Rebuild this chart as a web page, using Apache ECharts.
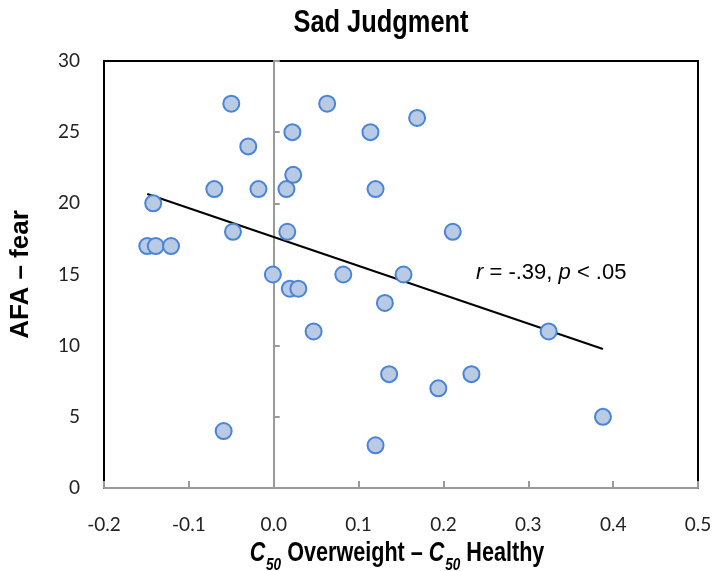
<!DOCTYPE html>
<html>
<head>
<meta charset="utf-8">
<script src="https://cdn.jsdelivr.net/npm/echarts@6/dist/echarts.min.js"></script>
<style>
  html, body { margin: 0; padding: 0; background: #fff; }
  #sadJudgment { width: 715px; height: 571px; }
</style>
</head>
<body>
<div id="sadJudgment"></div>
<script>
// C50 difference (x) and AFA fear score (y)
const diffC50 = [
  -0.149, -0.139, -0.121, -0.142, -0.070, -0.050, -0.048, -0.030, -0.018, -0.059,
  -0.001, 0.015, 0.022, 0.023, 0.016, 0.019, 0.029, 0.047, 0.063, 0.082,
  0.114, 0.120, 0.120, 0.131, 0.136, 0.153, 0.169, 0.194, 0.211, 0.233,
  0.324, 0.388
];
const afaFear = [
  17, 17, 17, 20, 21, 27, 18, 24, 21, 4,
  15, 21, 25, 22, 18, 14, 14, 11, 27, 15,
  25, 21, 3, 13, 8, 15, 26, 7, 18, 8,
  11, 5
];
// end points of the fitted line
const fitX = [-0.149, 0.388];
const fitY = [20.66, 9.77];
const xTicks = [-0.2, 0.5, 0.1];   // min, max, step
const yTicks = [0, 30, 5];

const arial = '"Liberation Sans", Arial, sans-serif';

let chart = echarts.init(document.getElementById('sadJudgment'));

let points = [];
for (let i = 0; i < diffC50.length; i++) {
    points.push([diffC50[i], afaFear[i]]);
}
let fitLine = [];
for (let i = 0; i < fitX.length; i++) {
    fitLine.push([fitX[i], fitY[i]]);
}

// the title and x-axis name are set in a narrow bold face; squeeze Arial-like text to get it
const option = {
    animation: false,
    grid: {
        left: 102,
        top: 61,
        right: 17,
        bottom: 83,
        show: true,
        borderColor: '#000',
        borderWidth: 2
    },
    xAxis: {
        type: 'value',
        min: xTicks[0],
        max: xTicks[1],
        interval: xTicks[2],
        axisLine: { onZero: false, lineStyle: { color: '#9a9a9a', width: 2 } },
        axisTick: { inside: true, length: 7, lineStyle: { color: '#9a9a9a', width: 2 } },
        splitLine: { show: false },
        axisLabel: {
            margin: 27,
            fontFamily: 'Lato, sans-serif',
            fontSize: 19,
            color: '#222',
            formatter: v => v.toFixed(1)
        }
    },
    yAxis: [
        {
            type: 'value',
            min: yTicks[0],
            max: yTicks[1],
            interval: yTicks[2],
            position: 'left',
            axisLine: { show: false, onZero: false },
            axisTick: { show: false },
            splitLine: { show: false },
            axisLabel: {
                margin: 24,
                fontFamily: 'Lato, sans-serif',
                fontSize: 19,
                color: '#222'
            },
            name: 'AFA – fear',
            nameLocation: 'middle',
            nameRotate: 90,
            nameGap: 70,
            nameTextStyle: { fontFamily: arial, fontWeight: 'bold', fontSize: 26, color: '#000' }
        },
        {
            // the vertical line through x = 0, ticks to its right
            type: 'value',
            min: yTicks[0],
            max: yTicks[1],
            interval: yTicks[2],
            position: 'right',
            axisLine: { show: true, onZero: true, lineStyle: { color: '#9a9a9a', width: 2 } },
            axisTick: { show: true, length: 6, lineStyle: { color: '#9a9a9a', width: 2 } },
            axisLabel: { show: false },
            splitLine: { show: false }
        }
    ],
    graphic: [
        {
            type: 'text',
            x: 381,
            y: 23,
            scaleX: 0.82,
            style: {
                text: 'Sad Judgment',
                align: 'center',
                verticalAlign: 'middle',
                fontFamily: arial,
                fontWeight: 'bold',
                fontSize: 31,
                fill: '#000'
            }
        },
        {
            type: 'text',
            x: 397,
            y: 555,
            scaleX: 0.8,
            style: {
                text: '{c|C}{s|50}{t| Overweight – }{c|C}{s|50}{t| Healthy}',
                align: 'center',
                verticalAlign: 'middle',
                rich: {
                    t: { fontFamily: arial, fontWeight: 'bold', fontSize: 27, lineHeight: 30, verticalAlign: 'top', fill: '#000' },
                    c: { fontFamily: arial, fontWeight: 'bold', fontStyle: 'italic', fontSize: 27, lineHeight: 30, verticalAlign: 'top', fill: '#000' },
                    s: { fontFamily: arial, fontWeight: 'bold', fontStyle: 'italic', fontSize: 17, lineHeight: 17, padding: [17, 0, 0, 1], verticalAlign: 'top', fill: '#000' }
                }
            }
        },
        {
            type: 'text',
            left: 476,
            top: 262,
            style: {
                text: '{i|r} = -.39, {i|p} < .05',
                fill: '#000',
                rich: {
                    i: { fontFamily: arial, fontStyle: 'italic', fontSize: 22, fill: '#000' }
                },
                fontFamily: arial,
                fontSize: 22
            }
        }
    ],
    series: [
        {
            name: 'fit',
            type: 'line',
            data: fitLine,
            symbol: 'none',
            lineStyle: { color: '#000', width: 2 },
            z: 2
        },
        {
            name: 'participants',
            type: 'scatter',
            data: points,
            symbolSize: 16,
            itemStyle: { color: '#b9cae4', borderColor: '#4a84d4', borderWidth: 2, opacity: 1 },
            z: 3
        }
    ]
};

chart.setOption(option);
</script>
</body>
</html>
